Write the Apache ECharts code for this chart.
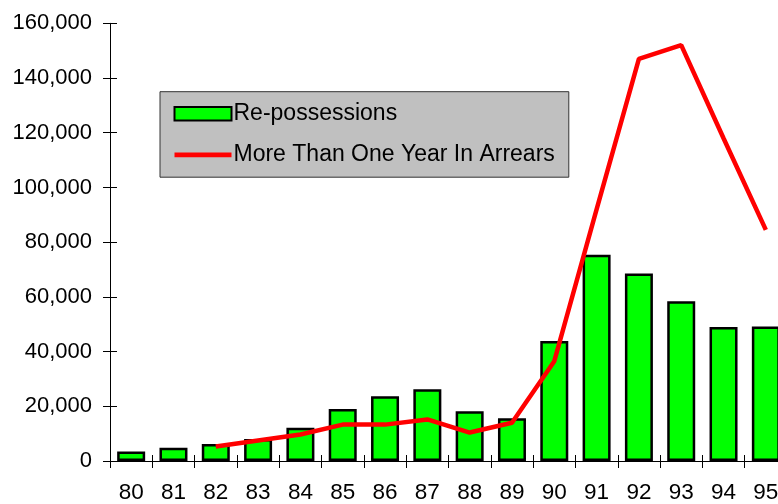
<!DOCTYPE html>
<html>
<head>
<meta charset="utf-8">
<script src="https://cdn.jsdelivr.net/npm/echarts@6/dist/echarts.min.js"></script>
<style>
  html, body { margin: 0; padding: 0; background: #fff; overflow: hidden; }
  /* the plot runs a little past the right edge of the page, so the canvas is wider than the window */
  #chart { width: 800px; height: 504px; }
</style>
</head>
<body>
<div id="chart"></div>
<script>
// Years (1980-1995) shown as two-digit labels
var years = ['80','81','82','83','84','85','86','87','88','89','90','91','92','93','94','95'];

// Properties taken into possession each year
var repossessions = [3500, 4800, 6200, 8000, 12200, 19000, 23700, 26200, 18200, 15600, 43900, 75400, 68500, 58400, 49000, 49200];

// Mortgages more than twelve months behind (series begins in 1982)
var arrears = [null, null, 5300, 7500, 9700, 13300, 13300, 15200, 10400, 14000, 36500, 92000, 147000, 152000, 118000, 84500];

// Value axis ticks
var yMin = 0, yMax = 160000, yStep = 20000;

var FONT = '"Liberation Sans", Arial, sans-serif';

var chart = echarts.init(document.getElementById('chart'), null, { renderer: 'canvas' });

function fmt(v) { return Number(v).toLocaleString('en-US'); }

var axisLine = { show: true, lineStyle: { color: '#000', width: 1 } };

// thin red bar inside a 57x14 box, used as the legend key of the line
var lineKey = 'path://M0,0L0,0ZM57,14L57,14ZM0,4.6L57,4.6L57,9.6L0,9.6Z';

chart.setOption({
  animation: false,
  backgroundColor: '#fff',
  textStyle: { fontFamily: FONT },
  grid: { left: 110, top: 23.3, bottom: 42.3, width: 677, containLabel: false },
  legend: {
    orient: 'vertical',
    left: 160,
    top: 91.7,
    backgroundColor: '#c0c0c0',
    borderColor: '#333333',
    borderWidth: 1,
    borderRadius: 0,
    padding: [10.5, 14, 11, 13.5],
    itemGap: 18,
    itemWidth: 57,
    itemHeight: 13.5,
    symbolKeepAspect: false,
    textStyle: { fontFamily: FONT, fontSize: 23, color: '#000', lineHeight: 22, padding: [0, 0, 0, -3] },
    data: [
      { name: 'Re-possessions', icon: 'rect' },
      { name: 'More Than One Year In Arrears', icon: lineKey, itemStyle: { color: '#ff0000', borderWidth: 0 } }
    ]
  },
  xAxis: [
    {
      type: 'category',
      data: years,
      boundaryGap: true,
      axisLine: axisLine,
      axisTick: { show: true, length: 7, lineStyle: { color: '#000', width: 1 } },
      axisLabel: { fontFamily: FONT, fontSize: 22.5, color: '#000', margin: 20 },
      splitLine: { show: false }
    },
    {
      // inward half of the crossing tick marks
      type: 'category',
      data: years,
      position: 'bottom',
      boundaryGap: true,
      axisLine: { show: false },
      axisTick: { show: true, inside: true, length: 6, lineStyle: { color: '#000', width: 1 } },
      axisLabel: { show: false },
      splitLine: { show: false }
    }
  ],
  yAxis: [
    {
      type: 'value',
      min: yMin, max: yMax, interval: yStep,
      axisLine: axisLine,
      axisTick: { show: true, length: 7, lineStyle: { color: '#000', width: 1 } },
      axisLabel: { fontFamily: FONT, fontSize: 22, color: '#000', margin: 18, formatter: fmt },
      splitLine: { show: false }
    },
    {
      type: 'value',
      position: 'left',
      offset: 0,
      min: yMin, max: yMax, interval: yStep,
      axisLine: { show: false },
      axisTick: { show: true, inside: true, length: 7, lineStyle: { color: '#000', width: 1 } },
      axisLabel: { show: false },
      splitLine: { show: false }
    }
  ],
  series: [
    {
      name: 'Re-possessions',
      type: 'bar',
      xAxisIndex: 0,
      yAxisIndex: 0,
      data: repossessions,
      barWidth: 28,
      itemStyle: { color: '#00ff00', borderColor: '#000', borderWidth: 2.5 },
      z: 2
    },
    {
      name: 'More Than One Year In Arrears',
      type: 'line',
      xAxisIndex: 0,
      yAxisIndex: 0,
      data: arrears,
      symbol: 'none',
      showSymbol: false,
      connectNulls: false,
      lineStyle: { color: '#ff0000', width: 4.5 },
      itemStyle: { color: '#ff0000' },
      z: 3
    }
  ]
});
</script>
</body>
</html>
